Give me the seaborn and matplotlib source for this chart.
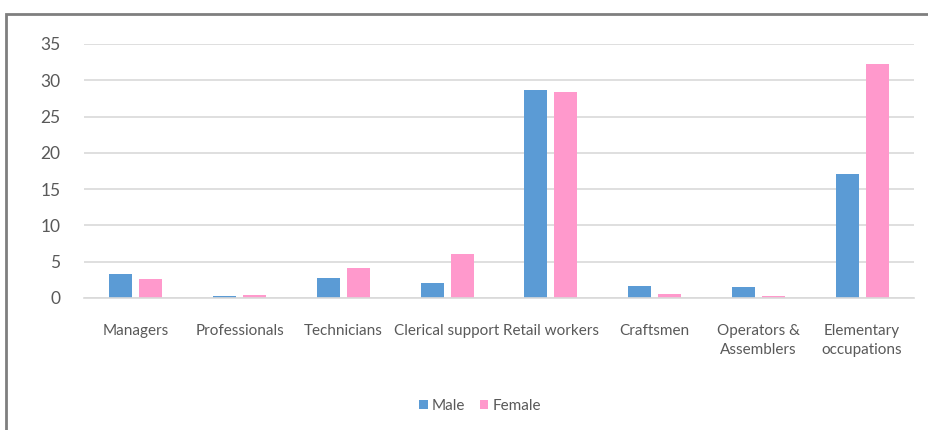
import matplotlib
matplotlib.use("Agg")
import matplotlib.pyplot as plt
import seaborn as sns
import pandas as pd
from matplotlib.patches import Rectangle, Patch

categories = ["Managers", "Professionals", "Technicians", "Clerical support",
              "Retail workers", "Craftsmen", "Operators &\nAssemblers",
              "Elementary\noccupations"]
male = [3.3, 0.25, 2.8, 2.0, 28.7, 1.6, 1.5, 17.1]
female = [2.6, 0.35, 4.1, 6.0, 28.4, 0.5, 0.3, 32.2]
series = ["Male", "Female"]
colors = ["#5B9BD5", "#FF99CC"]
yticks = [0, 5, 10, 15, 20, 25, 30, 35]

df = pd.DataFrame({
    "cat": categories * 2,
    "val": male + female,
    "sex": ["Male"] * len(categories) + ["Female"] * len(categories),
})

sns.set_style("white")
plt.rcParams["font.family"] = ["Lato", "DejaVu Sans"]
text_color = "#595959"

fig = plt.figure(figsize=(9.29, 4.30), dpi=100)
ax = fig.add_axes([84 / 929, 1 - 298 / 430, 830 / 929, 254 / 430])

sns.barplot(data=df, x="cat", y="val", hue="sex", order=categories,
            hue_order=series, palette=colors, width=0.58, gap=0.24,
            ax=ax, legend=False, saturation=1, edgecolor="none")

ax.set_ylim(0, 35)
ax.set_xlim(-0.5, len(categories) - 0.5)
ax.set_yticks(yticks)
ax.set_yticklabels([str(t) for t in yticks], fontsize=12.5, color=text_color)
ax.set_xticks(range(len(categories)))
ax.set_xticklabels(categories, fontsize=11, color=text_color, linespacing=1.4)
ax.tick_params(axis="both", length=0)
ax.tick_params(axis="x", pad=19)
ax.tick_params(axis="y", pad=17)
ax.set_xlabel("")
ax.set_ylabel("")
for s in ["top", "right", "left"]:
    ax.spines[s].set_visible(False)
ax.spines["bottom"].set_color("#d9d9d9")
ax.spines["bottom"].set_linewidth(1.2)
ax.yaxis.grid(True, color="#d9d9d9", linewidth=1.2)
ax.set_axisbelow(True)

handles = [Patch(facecolor=c, edgecolor="none") for c in colors]
fig.legend(handles, series, loc="center", bbox_to_anchor=(480 / 929, 1 - 406 / 430),
           ncol=2, frameon=False, fontsize=11, handlelength=0.55,
           handleheight=0.55, handletextpad=0.25, columnspacing=1.0,
           labelcolor=text_color)

fig.patches.append(Rectangle((6 / 929, -0.1), 1.2, (1 - 14 / 430) + 0.1,
                             transform=fig.transFigure, fill=False,
                             edgecolor="#7f7f7f", linewidth=2))

fig.savefig("out.png", dpi=100)
